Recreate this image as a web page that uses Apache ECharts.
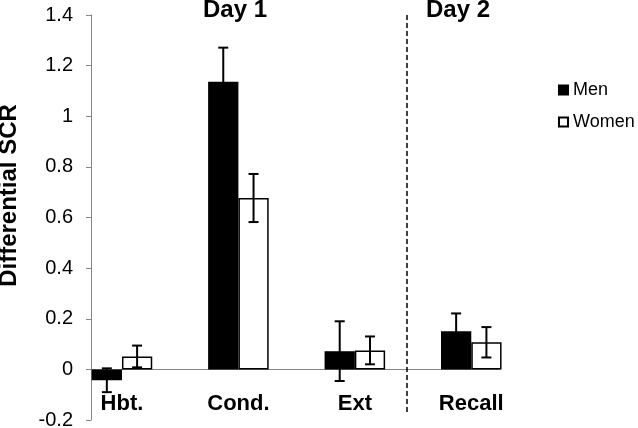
<!DOCTYPE html>
<html>
<head>
<meta charset="utf-8">
<script src="https://cdn.jsdelivr.net/npm/echarts@6/dist/echarts.min.js"></script>
<style>
  html, body { margin: 0; padding: 0; background: #fff; }
  #chart { width: 638px; height: 428px; }
</style>
</head>
<body>
<div id="chart"></div>
<script>
// data
let categories = ['Hbt.', 'Cond.', 'Ext', 'Recall']
let menValues = [-0.043, 1.136, 0.072, 0.151]
let menErrors = [0.047, 0.135, 0.118, 0.07]
let womenValues = [0.051, 0.677, 0.075, 0.107]
let womenErrors = [0.043, 0.095, 0.055, 0.06]
let yTicks = { min: -0.2, max: 1.4, interval: 0.2 }
let dayLabels = ['Day 1', 'Day 2']
// day divider, in category units (Hbt. centre = 0.5)
let dayDivider = 2.96

let font = 'Liberation Sans, Arial, sans-serif'

function errorData(values, errors, side) {
    return values.map((v, i) => [i, v - errors[i], v + errors[i], side])
}

function renderErrorBar(params, api) {
    let band = api.size([1, 0])[0]
    let dx = api.value(3) * band * 0.13
    let hi = api.coord([api.value(0), api.value(2)])
    let lo = api.coord([api.value(0), api.value(1)])
    let x = hi[0] + dx
    let cap = 5
    let style = { stroke: '#000', lineWidth: 2 }
    return {
        type: 'group',
        children: [
            { type: 'line', shape: { x1: x, y1: hi[1], x2: x, y2: lo[1] }, style: style },
            { type: 'line', shape: { x1: x - cap, y1: hi[1], x2: x + cap, y2: hi[1] }, style: style },
            { type: 'line', shape: { x1: x - cap, y1: lo[1], x2: x + cap, y2: lo[1] }, style: style }
        ]
    }
}

let myChart = echarts.init(document.getElementById('chart'))
let option = {
    animation: false,
    textStyle: { fontFamily: font },
    grid: [
        // bars
        { left: 63.75, right: 108.5, top: 15, bottom: 8, outerBoundsMode: 'none', containLabel: false },
        // axes
        { left: 91, right: 138, top: 15, bottom: 8, outerBoundsMode: 'none', containLabel: false }
    ],
    legend: {
        orient: 'vertical',
        left: 553,
        top: 76,
        itemWidth: 9,
        itemHeight: 9,
        itemGap: 14,
        icon: 'rect',
        data: ['Men', 'Women'],
        textStyle: { fontSize: 18, color: '#000', fontFamily: font }
    },
    graphic: [
        { type: 'text', x: 235, y: -2, style: { text: dayLabels[0], font: 'bold 24px ' + font, fill: '#000', align: 'center' } },
        { type: 'text', x: 458, y: -2, style: { text: dayLabels[1], font: 'bold 24px ' + font, fill: '#000', align: 'center' } }
    ],
    xAxis: [
        {
            type: 'category',
            gridIndex: 0,
            position: 'bottom',
            data: categories,
            axisLine: { show: false, onZero: false },
            axisTick: { show: false },
            axisLabel: { margin: -27, fontSize: 22, fontWeight: 'bold', color: '#000', fontFamily: font }
        },
        {
            type: 'value',
            gridIndex: 1,
            min: 0.24,
            max: 3.76,
            axisLine: { show: true, onZero: true, lineStyle: { color: '#868686', width: 1 } },
            axisTick: { show: false },
            axisLabel: { show: false },
            splitLine: { show: false }
        }
    ],
    yAxis: [
        {
            type: 'value',
            gridIndex: 0,
            min: yTicks.min,
            max: yTicks.max,
            interval: yTicks.interval,
            axisLine: { show: false },
            axisTick: { show: false },
            axisLabel: { show: false },
            splitLine: { show: false }
        },
        {
            type: 'value',
            gridIndex: 1,
            min: yTicks.min,
            max: yTicks.max,
            interval: yTicks.interval,
            name: 'Differential SCR',
            nameLocation: 'middle',
            nameRotate: 90,
            nameGap: 70,
            nameTextStyle: { fontSize: 24, fontWeight: 'bold', color: '#000', fontFamily: font, padding: [0, 0, 0, 44] },
            axisLine: { show: true, onZero: false, lineStyle: { color: '#868686', width: 1 } },
            axisTick: { show: true, inside: false, length: 5, lineStyle: { color: '#868686' } },
            axisLabel: {
                margin: 18,
                fontSize: 20,
                color: '#000',
                fontFamily: font,
                formatter: v => String(Math.round(v * 10) / 10)
            },
            splitLine: { show: false }
        }
    ],
    series: [
        {
            name: 'Men',
            type: 'bar',
            xAxisIndex: 0,
            yAxisIndex: 0,
            barWidth: '26%',
            barGap: '0%',
            itemStyle: { color: '#000', borderColor: '#000', borderWidth: 1.5 },
            data: menValues
        },
        {
            name: 'Women',
            type: 'bar',
            xAxisIndex: 0,
            yAxisIndex: 0,
            barWidth: '26%',
            barGap: '0%',
            itemStyle: { color: '#fff', borderColor: '#000', borderWidth: 1.5 },
            data: womenValues
        },
        {
            type: 'custom',
            xAxisIndex: 0,
            yAxisIndex: 0,
            renderItem: renderErrorBar,
            z: 5,
            data: errorData(menValues, menErrors, -1)
        },
        {
            type: 'custom',
            xAxisIndex: 0,
            yAxisIndex: 0,
            renderItem: renderErrorBar,
            z: 5,
            data: errorData(womenValues, womenErrors, 1)
        },
        {
            // helper for the day divider
            type: 'line',
            xAxisIndex: 1,
            yAxisIndex: 1,
            data: [],
            markLine: {
                silent: true,
                symbol: 'none',
                label: { show: false },
                lineStyle: { color: '#000', type: [5, 3], width: 1.5 },
                data: [[{ coord: [dayDivider, 1.4] }, { coord: [dayDivider, -0.175] }]]
            }
        }
    ]
}
myChart.setOption(option)
</script>
</body>
</html>
